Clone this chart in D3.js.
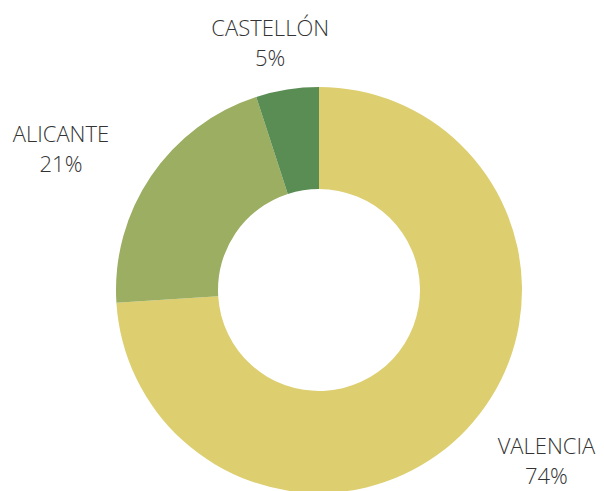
<!DOCTYPE html>
<html>
<head>
<meta charset="utf-8">
<script src="https://cdn.jsdelivr.net/npm/d3@7"></script>
<style>
  html, body { margin: 0; padding: 0; background: #fff; }
  svg text { font-family: "Open Sans", sans-serif; font-weight: 300; }
</style>
</head>
<body>
<div id="chart"></div>
<script>
var provinces = ["VALENCIA", "ALICANTE", "CASTELLÓN"];
var shares = [74, 21, 5];
var colors = ["#DDCE70", "#9BAE61", "#5A8D53"];

var width = 604,
    height = 491;
var cx = 319, cy = 290,
    outerR = 203, innerR = 101;

var svg = d3.select("#chart").append("svg")
  .attr("width", width)
  .attr("height", height);

var g = svg.append("g").attr("transform", "translate(" + cx + "," + cy + ")");

var pie = d3.pie().sort(null).value(function(d){ return d; });
var arcs = pie(shares);

var arc = d3.arc().innerRadius(innerR).outerRadius(outerR);

g.selectAll("path.slice")
  .data(arcs)
  .enter().append("path")
  .attr("class", "slice")
  .attr("d", arc)
  .attr("fill", function(d, i){ return colors[i]; });

// labels sit on an ellipse around the donut, at each slice's mid angle
var rx = 312, ry = 250;
var labels = g.selectAll("g.label")
  .data(arcs)
  .enter().append("g")
  .attr("class", "label")
  .attr("transform", function(d){
    var a = (d.startAngle + d.endAngle) / 2;
    return "translate(" + (Math.sin(a) * rx) + "," + (-Math.cos(a) * ry) + ")";
  });

labels.append("text")
  .attr("text-anchor", "middle")
  .attr("y", -7)
  .attr("fill", "#333")
  .style("font-size", "22px")
  .text(function(d, i){ return provinces[i]; });

labels.append("text")
  .attr("text-anchor", "middle")
  .attr("y", 23)
  .attr("fill", "#333")
  .style("font-size", "22px")
  .text(function(d, i){ return shares[i] + "%"; });
</script>
</body>
</html>
